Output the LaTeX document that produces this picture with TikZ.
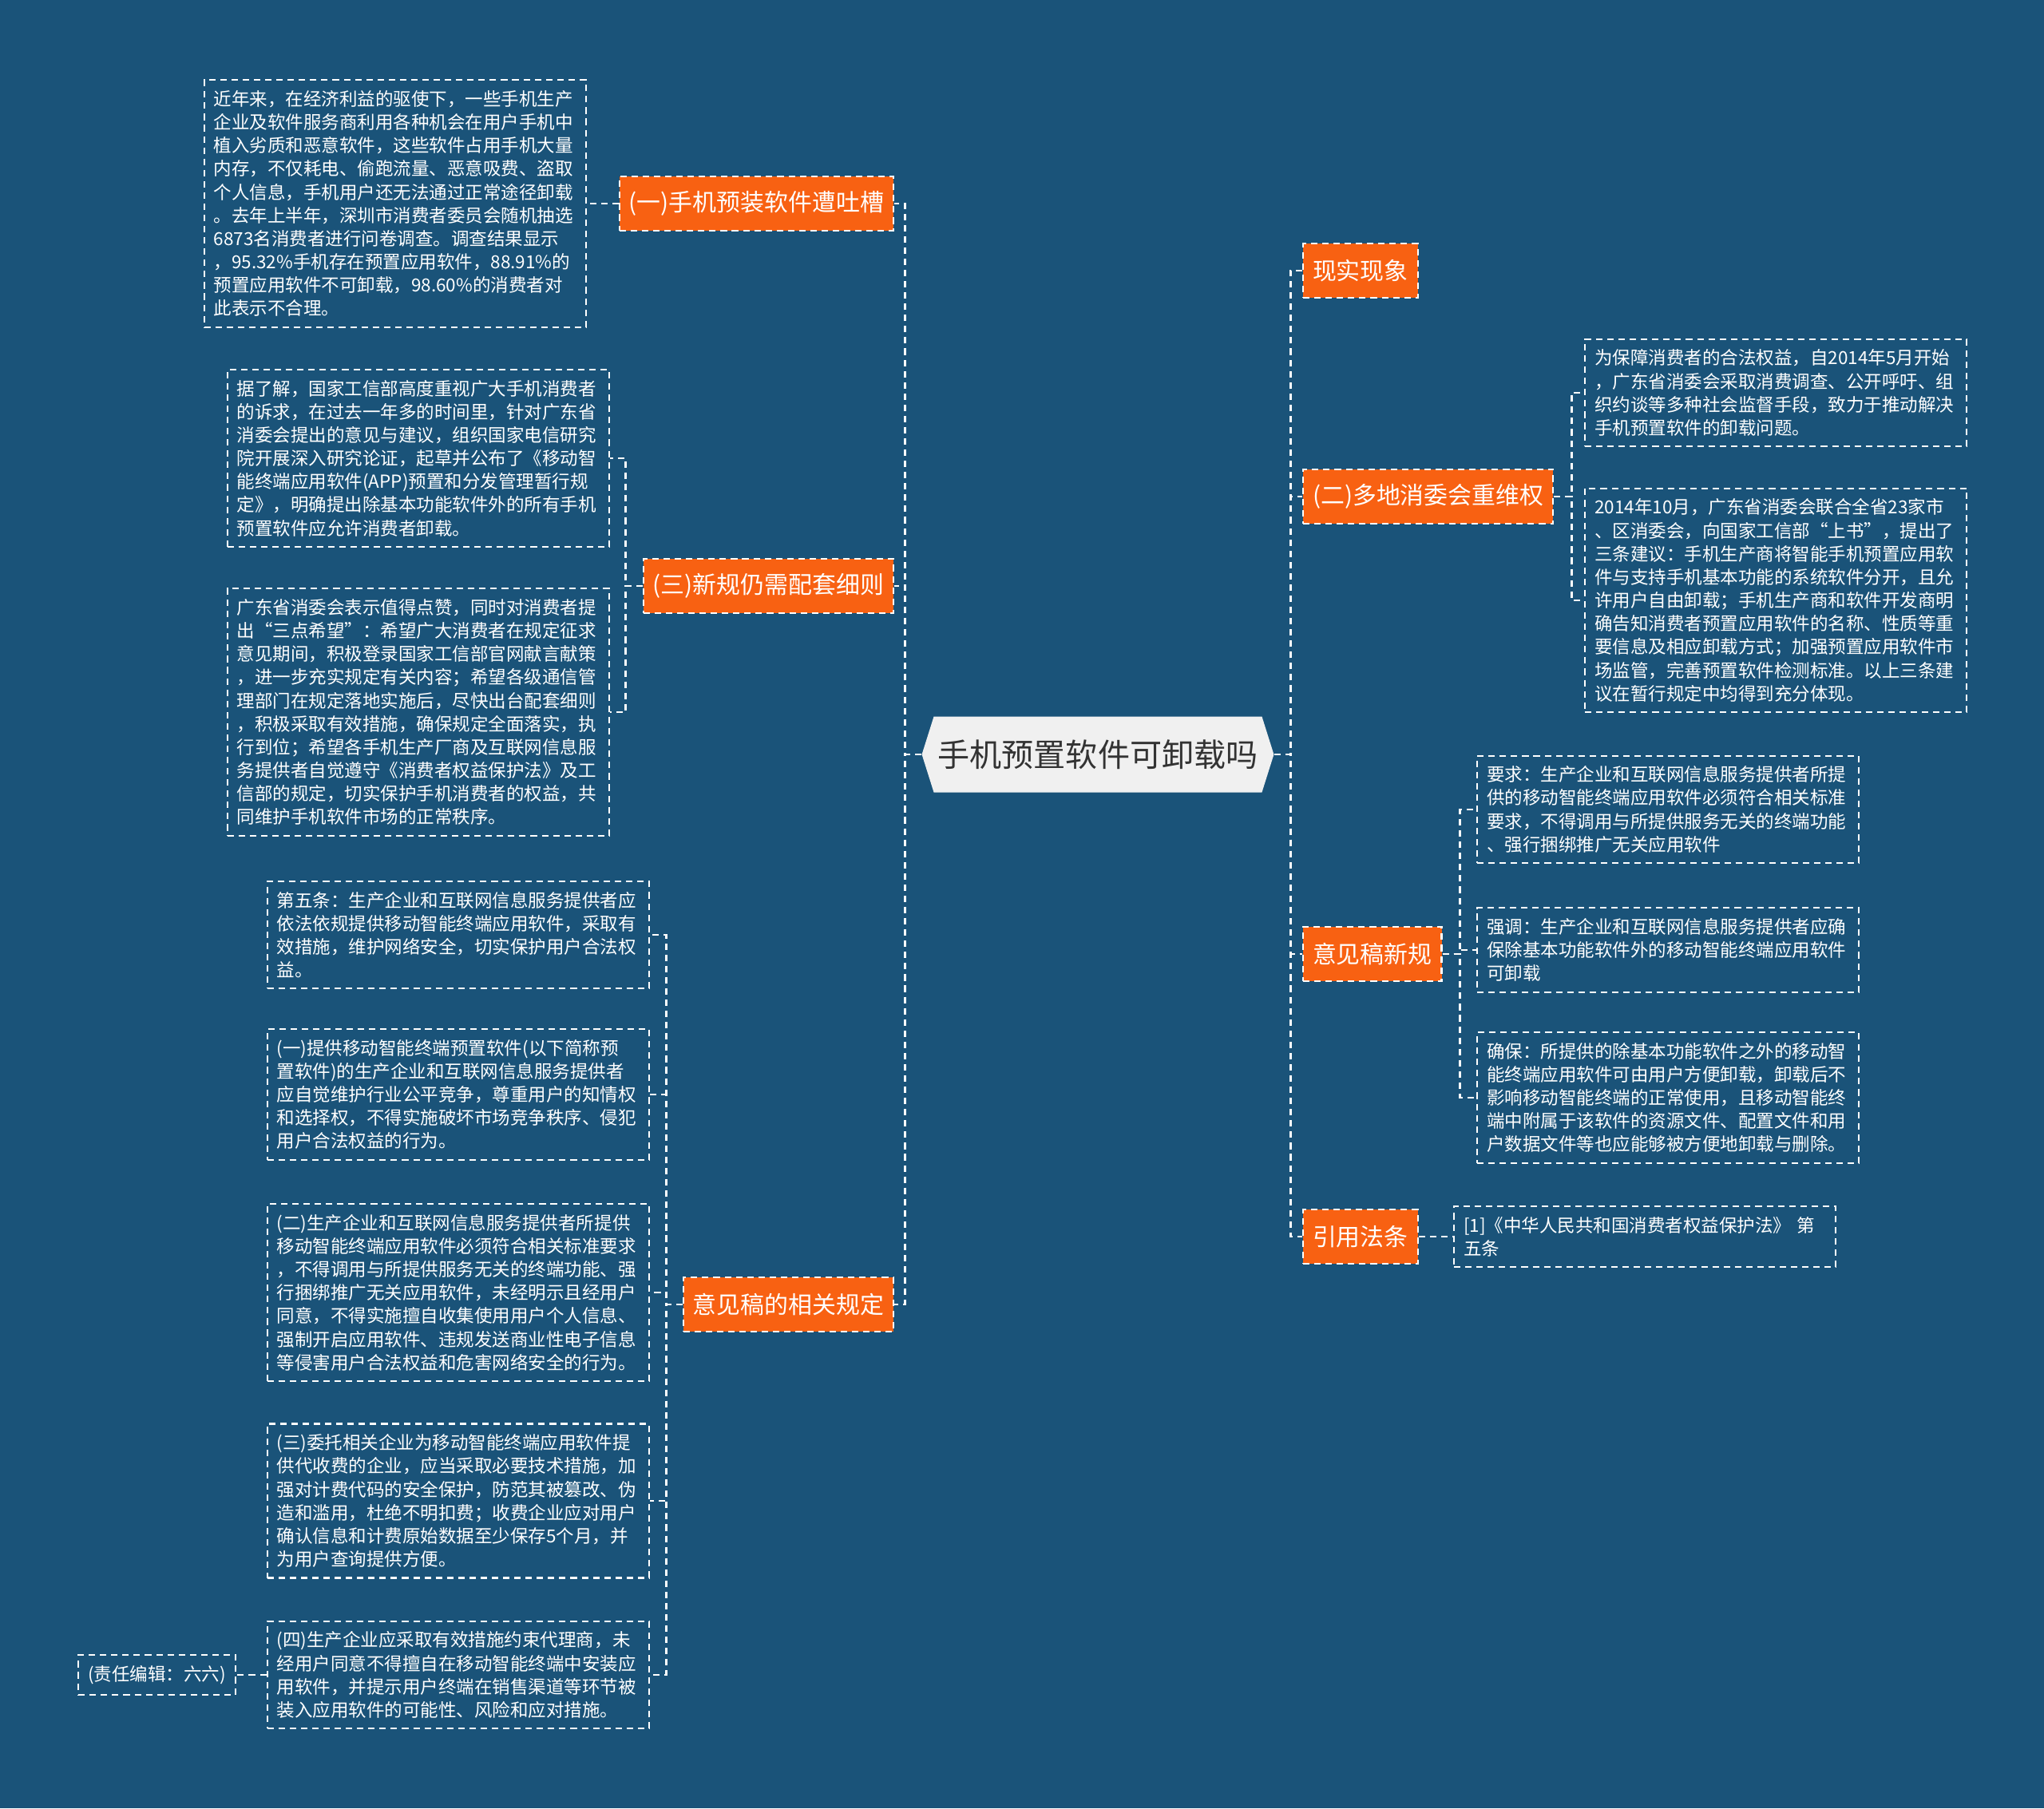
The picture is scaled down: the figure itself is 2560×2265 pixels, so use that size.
\documentclass[tikz,border=0pt]{standalone}
\usepackage{fontspec}
\setmainfont{Noto Sans CJK SC}
\usetikzlibrary{shapes.symbols}
\definecolor{bgblue}{RGB}{26,83,121}
\definecolor{tagorange}{RGB}{248,97,18}
\definecolor{hubgray}{RGB}{240,240,240}
\definecolor{hubtext}{RGB}{51,51,51}

\begin{document}
\begin{tikzpicture} [x=0.01cm, y=-0.01cm,
  conn/.style={white, line width=0.8pt, dash pattern=on 2.3pt off 1.7pt},
  txt/.style={draw=white, line width=0.6pt, dash pattern=on 2.3pt off 1.7pt, text=white,
    align=left, text width=4.54cm, inner xsep=0.12cm, inner ysep=0.13cm,
    font=\fontsize{6.4}{8.3}\selectfont},
  tag/.style={fill=tagorange, draw=white, line width=0.6pt, dash pattern=on 2.3pt off 1.7pt,
    text=white, minimum height=0.68cm, inner xsep=0.12cm, font=\fontsize{8.5}{10}\selectfont},
  hub/.style={signal, signal to=west and east, signal pointer angle=145, fill=hubgray,
    text=hubtext, minimum height=0.95cm, minimum width=4.14cm, inner xsep=0.05cm,
    font=\fontsize{11.4}{13}\selectfont}]
\useasboundingbox (0,0) rectangle (2560,2265);
\fill[bgblue] (0,0) rectangle (2560,2265);

\node[hub] (hub) at (1375,945) {手机预置软件可卸载吗};

\node[tag, anchor=east] (o1) at (1120,255) {(一)手机预装软件遭吐槽};
\node[tag, anchor=east] (o3) at (1120,734) {(三)新规仍需配套细则};
\node[tag, anchor=east] (o5) at (1120,1634) {意见稿的相关规定};
\node[tag, anchor=west] (r1) at (1631,339) {现实现象};
\node[tag, anchor=west] (r2) at (1631,622) {(二)多地消委会重维权};
\node[tag, anchor=west] (r3) at (1631,1195) {意见稿新规};
\node[tag, anchor=west] (r4) at (1631,1549) {引用法条};

\node[txt, anchor=east] (tA) at (735,255) {近年来，在经济利益的驱使下，一些手机生产\\企业及软件服务商利用各种机会在用户手机中\\植入劣质和恶意软件，这些软件占用手机大量\\内存，不仅耗电、偷跑流量、恶意吸费、盗取\\个人信息，手机用户还无法通过正常途径卸载\\。去年上半年，深圳市消费者委员会随机抽选\\6873名消费者进行问卷调查。调查结果显示\\，95.32\%手机存在预置应用软件，88.91\%的\\预置应用软件不可卸载，98.60\%的消费者对\\此表示不合理。};

\node[txt, anchor=east] (t3a) at (764,574) {据了解，国家工信部高度重视广大手机消费者\\的诉求，在过去一年多的时间里，针对广东省\\消委会提出的意见与建议，组织国家电信研究\\院开展深入研究论证，起草并公布了《移动智\\能终端应用软件(APP)预置和分发管理暂行规\\定》，明确提出除基本功能软件外的所有手机\\预置软件应允许消费者卸载。};
\node[txt, anchor=east] (t3b) at (764,892) {广东省消委会表示值得点赞，同时对消费者提\\出“三点希望”：希望广大消费者在规定征求\\意见期间，积极登录国家工信部官网献言献策\\，进一步充实规定有关内容；希望各级通信管\\理部门在规定落地实施后，尽快出台配套细则\\，积极采取有效措施，确保规定全面落实，执\\行到位；希望各手机生产厂商及互联网信息服\\务提供者自觉遵守《消费者权益保护法》及工\\信部的规定，切实保护手机消费者的权益，共\\同维护手机软件市场的正常秩序。};

\node[txt, anchor=east] (t5a) at (814,1171) {第五条：生产企业和互联网信息服务提供者应\\依法依规提供移动智能终端应用软件，采取有\\效措施，维护网络安全，切实保护用户合法权\\益。};
\node[txt, anchor=east] (t5b) at (814,1371) {(一)提供移动智能终端预置软件(以下简称预\\置软件)的生产企业和互联网信息服务提供者\\应自觉维护行业公平竞争，尊重用户的知情权\\和选择权，不得实施破坏市场竞争秩序、侵犯\\用户合法权益的行为。};
\node[txt, anchor=east] (t5c) at (814,1619) {(二)生产企业和互联网信息服务提供者所提供\\移动智能终端应用软件必须符合相关标准要求\\，不得调用与所提供服务无关的终端功能、强\\行捆绑推广无关应用软件，未经明示且经用户\\同意，不得实施擅自收集使用用户个人信息、\\强制开启应用软件、违规发送商业性电子信息\\等侵害用户合法权益和危害网络安全的行为。};
\node[txt, anchor=east] (t5d) at (814,1880) {(三)委托相关企业为移动智能终端应用软件提\\供代收费的企业，应当采取必要技术措施，加\\强对计费代码的安全保护，防范其被篡改、伪\\造和滥用，杜绝不明扣费；收费企业应对用户\\确认信息和计费原始数据至少保存5个月，并\\为用户查询提供方便。};
\node[txt, anchor=east] (t5e) at (814,2098) {(四)生产企业应采取有效措施约束代理商，未\\经用户同意不得擅自在移动智能终端中安装应\\用软件，并提示用户终端在销售渠道等环节被\\装入应用软件的可能性、风险和应对措施。};
\node[txt, anchor=east, text width=] (ed) at (296,2098) {(责任编辑：六六)};

\node[txt, anchor=west] (e1) at (1984,492) {为保障消费者的合法权益，自2014年5月开始\\，广东省消委会采取消费调查、公开呼吁、组\\织约谈等多种社会监督手段，致力于推动解决\\手机预置软件的卸载问题。};
\node[txt, anchor=west] (e2) at (1984,752) {2014年10月，广东省消委会联合全省23家市\\、区消委会，向国家工信部“上书”，提出了\\三条建议：手机生产商将智能手机预置应用软\\件与支持手机基本功能的系统软件分开，且允\\许用户自由卸载；手机生产商和软件开发商明\\确告知消费者预置应用软件的名称、性质等重\\要信息及相应卸载方式；加强预置应用软件市\\场监管，完善预置软件检测标准。以上三条建\\议在暂行规定中均得到充分体现。};
\node[txt, anchor=west] (f1) at (1849,1014) {要求：生产企业和互联网信息服务提供者所提\\供的移动智能终端应用软件必须符合相关标准\\要求，不得调用与所提供服务无关的终端功能\\、强行捆绑推广无关应用软件};
\node[txt, anchor=west] (f2) at (1849,1190) {强调：生产企业和互联网信息服务提供者应确\\保除基本功能软件外的移动智能终端应用软件\\可卸载};
\node[txt, anchor=west] (f3) at (1849,1375) {确保：所提供的除基本功能软件之外的移动智\\能终端应用软件可由用户方便卸载，卸载后不\\影响移动智能终端的正常使用，且移动智能终\\端中附属于该软件的资源文件、配置文件和用\\户数据文件等也应能够被方便地卸载与删除。};
\node[txt, anchor=west] (g1) at (1820,1549) {[1]《中华人民共和国消费者权益保护法》 第\\五条};

\foreach \n in {o1,o3,o5} {
 \draw[conn] (hub.west) --++(-20,0) |- (\n.east);
}
\foreach \n in {r1,r2,r3,r4} {
 \draw[conn] (hub.east) --++(20,0) |- (\n.west);
}
\draw[conn] (o1.west) -- (tA.east);
\foreach \n in {t3a,t3b} {
 \draw[conn] (o3.west) --++(-21,0) |- (\n.east);
}
\foreach \n in {t5a,t5b,t5c,t5d,t5e} {
 \draw[conn] (o5.west) --++(-20,0) |- (\n.east);
}
\draw[conn] (t5e.west) -- (ed.east);
\foreach \n in {e1,e2} {
 \draw[conn] (r2.east) --++(22,0) |- (\n.west);
}
\foreach \n in {f1,f2,f3} {
 \draw[conn] (r3.east) --++(22,0) |- (\n.west);
}
\draw[conn] (r4.east) -- (g1.west);
\end{tikzpicture}
\end{document}
